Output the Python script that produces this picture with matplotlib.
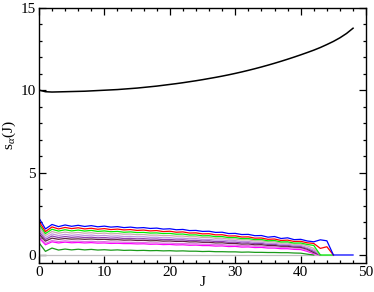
import matplotlib
matplotlib.use("Agg")
import matplotlib.pyplot as plt
from matplotlib.ticker import MultipleLocator

plt.rcParams['font.family'] = ['Liberation Serif', 'DejaVu Serif']
plt.rcParams['mathtext.fontset'] = 'custom'
plt.rcParams['mathtext.rm'] = 'Liberation Serif'
plt.rcParams['mathtext.it'] = 'Liberation Serif:italic'

# total (black) curve, J = 0..48
s_total = [10.0, 9.9, 9.88, 9.89, 9.9, 9.91, 9.92, 9.93, 9.95, 9.97,
           9.99, 10.01, 10.03, 10.06, 10.09, 10.12, 10.16, 10.2, 10.24, 10.29,
           10.34, 10.39, 10.445, 10.505, 10.565, 10.63, 10.70, 10.77, 10.845, 10.925,
           11.01, 11.10, 11.195, 11.295, 11.40, 11.51, 11.625, 11.745, 11.87, 12.0,
           12.135, 12.275, 12.42, 12.58, 12.76, 12.95, 13.17, 13.43, 13.75]

s_blue = [2.25, 1.58, 1.85, 1.72, 1.82, 1.74, 1.80, 1.73, 1.78, 1.71,
          1.75, 1.69, 1.72, 1.66, 1.69, 1.64, 1.66, 1.61, 1.63, 1.57,
          1.59, 1.53, 1.55, 1.48, 1.49, 1.43, 1.44, 1.37, 1.38, 1.30,
          1.31, 1.24, 1.25, 1.17, 1.18, 1.08, 1.12, 1.00, 1.04, 0.93,
          0.95, 0.85, 0.80, 0.92, 0.86, 0.0, 0.0, 0.0, 0.0]

s_red = [2.05, 1.42, 1.70, 1.58, 1.67, 1.60, 1.65, 1.58, 1.62, 1.56,
         1.60, 1.54, 1.57, 1.52, 1.54, 1.49, 1.51, 1.46, 1.48, 1.42,
         1.44, 1.38, 1.40, 1.33, 1.34, 1.28, 1.29, 1.22, 1.23, 1.15,
         1.16, 1.09, 1.10, 1.02, 1.03, 0.95, 0.97, 0.88, 0.90, 0.82,
         0.83, 0.74, 0.70, 0.40, 0.50, 0.0]

s_green = [1.88, 1.30, 1.56, 1.45, 1.53, 1.46, 1.51, 1.45, 1.49, 1.43,
           1.46, 1.41, 1.43, 1.38, 1.40, 1.36, 1.37, 1.33, 1.34, 1.30,
           1.31, 1.26, 1.27, 1.21, 1.22, 1.16, 1.17, 1.11, 1.12, 1.05,
           1.06, 0.99, 1.00, 0.93, 0.94, 0.86, 0.88, 0.79, 0.80, 0.72,
           0.73, 0.64, 0.58, 0.0, 0.0, 0.0]

s_tan = [1.72, 1.18, 1.42, 1.32, 1.39, 1.33, 1.37, 1.32, 1.35, 1.30,
         1.33, 1.28, 1.30, 1.26, 1.27, 1.23, 1.24, 1.20, 1.21, 1.17,
         1.18, 1.14, 1.15, 1.10, 1.11, 1.06, 1.07, 1.01, 1.02, 0.96,
         0.97, 0.91, 0.92, 0.85, 0.86, 0.79, 0.80, 0.72, 0.73, 0.65,
         0.66, 0.55, 0.40, 0.0]

s_violet = [1.56, 1.05, 1.28, 1.18, 1.25, 1.19, 1.23, 1.18, 1.21, 1.16,
            1.19, 1.14, 1.16, 1.12, 1.13, 1.10, 1.11, 1.07, 1.08, 1.04,
            1.05, 1.01, 1.02, 0.98, 0.99, 0.94, 0.95, 0.90, 0.91, 0.86,
            0.87, 0.81, 0.82, 0.76, 0.77, 0.70, 0.71, 0.64, 0.65, 0.58,
            0.58, 0.45, 0.30, 0.0]

s_purple = [1.42, 0.94, 1.15, 1.06, 1.12, 1.07, 1.10, 1.06, 1.08, 1.04,
            1.06, 1.02, 1.04, 1.00, 1.01, 0.98, 0.99, 0.96, 0.97, 0.93,
            0.94, 0.91, 0.92, 0.88, 0.89, 0.85, 0.86, 0.81, 0.82, 0.77,
            0.78, 0.73, 0.74, 0.69, 0.70, 0.64, 0.65, 0.58, 0.59, 0.53,
            0.52, 0.40, 0.22, 0.0]

s_maroon = [1.28, 0.84, 1.02, 0.95, 1.00, 0.96, 0.98, 0.95, 0.97, 0.94,
            0.95, 0.92, 0.93, 0.90, 0.91, 0.88, 0.89, 0.86, 0.87, 0.84,
            0.85, 0.82, 0.83, 0.79, 0.80, 0.77, 0.77, 0.73, 0.74, 0.70,
            0.70, 0.66, 0.67, 0.62, 0.63, 0.58, 0.58, 0.53, 0.53, 0.48,
            0.47, 0.35, 0.15, 0.0]

s_orchid = [1.14, 0.70, 0.88, 0.81, 0.86, 0.82, 0.84, 0.81, 0.83, 0.80,
            0.81, 0.78, 0.79, 0.77, 0.77, 0.75, 0.76, 0.73, 0.74, 0.71,
            0.72, 0.69, 0.70, 0.67, 0.68, 0.65, 0.65, 0.62, 0.63, 0.59,
            0.60, 0.56, 0.57, 0.53, 0.54, 0.50, 0.50, 0.46, 0.46, 0.42,
            0.41, 0.28, 0.12, 0.0]

s_magenta = [1.05, 0.62, 0.80, 0.73, 0.78, 0.74, 0.76, 0.73, 0.75, 0.72,
             0.73, 0.70, 0.71, 0.69, 0.69, 0.67, 0.68, 0.65, 0.66, 0.63,
             0.64, 0.61, 0.62, 0.59, 0.60, 0.57, 0.57, 0.54, 0.55, 0.51,
             0.52, 0.48, 0.49, 0.45, 0.46, 0.42, 0.42, 0.38, 0.38, 0.34,
             0.33, 0.22, 0.08, 0.0]

s_dkgreen = [0.75, 0.22, 0.42, 0.30, 0.36, 0.31, 0.35, 0.31, 0.34, 0.30,
             0.32, 0.29, 0.31, 0.28, 0.29, 0.27, 0.28, 0.26, 0.27, 0.25,
             0.26, 0.24, 0.25, 0.23, 0.23, 0.21, 0.22, 0.20, 0.20, 0.19,
             0.19, 0.17, 0.18, 0.16, 0.16, 0.15, 0.15, 0.14, 0.14, 0.12,
             0.11, 0.05, 0.0]

s_zero = [0.0] * 46

series = [
    (s_zero, '#c0c0c0'),
    (s_dkgreen, '#1a9a1a'),
    (s_magenta, '#ff00ff'),
    (s_orchid, '#e070e0'),
    (s_maroon, '#602040'),
    (s_purple, '#9040b0'),
    (s_violet, '#c090e0'),
    (s_tan, '#c8aaaa'),
    (s_green, '#00ee00'),
    (s_red, '#ff0000'),
    (s_blue, '#0000ff'),
]

fig = plt.figure(figsize=(3.74, 2.92), dpi=100)
ax = fig.add_axes([0.104, 0.0985, 0.875, 0.8755])

for vals, col in series:
    ax.plot(range(len(vals)), vals, color=col, lw=0.9)
ax.plot(range(len(s_total)), s_total, color='black', lw=1.1)

ax.set_xlim(0, 50)
ax.set_ylim(-0.5, 15)
ax.xaxis.set_major_locator(MultipleLocator(10))
ax.xaxis.set_minor_locator(MultipleLocator(2))
ax.yaxis.set_major_locator(MultipleLocator(5))
ax.yaxis.set_minor_locator(MultipleLocator(1))
ax.tick_params(which='both', direction='in', top=True, right=True,
               labelsize=11, width=0.9)
ax.tick_params(which='major', length=5, pad=2)
ax.tick_params(which='minor', length=2.5)
for sp in ax.spines.values():
    sp.set_linewidth(1.0)

ax.set_xlabel('J', fontsize=11, labelpad=-2)
ax.set_ylabel(r'$\mathrm{s}_{\alpha}\mathrm{(J)}$', fontsize=11, labelpad=2)

fig.savefig('out.png', dpi=100)
